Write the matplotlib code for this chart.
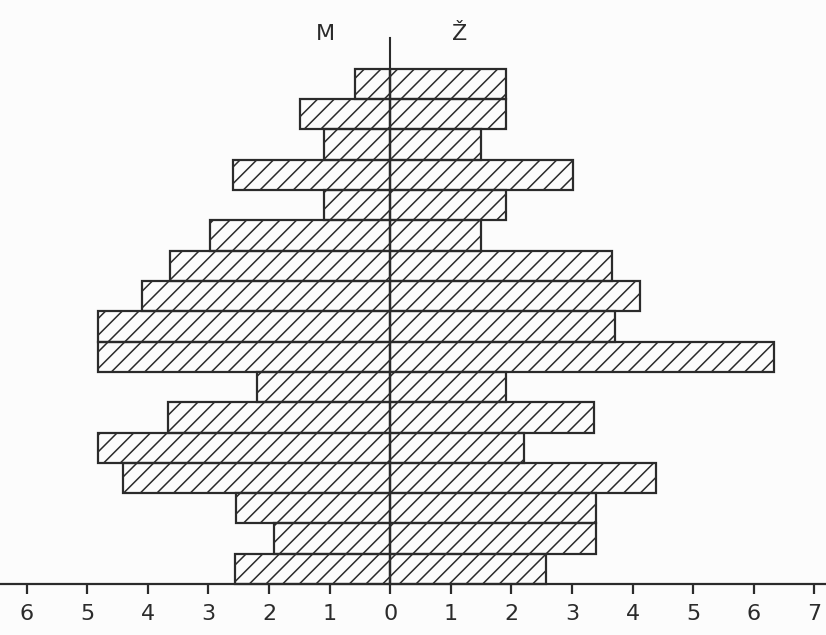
import matplotlib.pyplot as plt
import numpy as np

# age groups drawn from top (oldest) to bottom (youngest), percent of population
men = [0.58, 1.49, 1.09, 2.59, 1.09, 2.98, 3.63, 4.09, 4.82,
       4.82, 2.20, 3.66, 4.82, 4.41, 2.55, 1.92, 2.57]
women = [1.91, 1.91, 1.49, 3.02, 1.91, 1.49, 3.66, 4.12, 3.70,
         6.33, 1.91, 3.36, 2.20, 4.39, 3.40, 3.40, 2.57]
tick_values = [-6, -5, -4, -3, -2, -1, 0, 1, 2, 3, 4, 5, 6, 7]
tick_labels = [str(abs(v)) for v in tick_values]

ink = '#2b2b2b'
plt.rcParams['hatch.color'] = ink
plt.rcParams['hatch.linewidth'] = 1.1

fig = plt.figure(figsize=(8.26, 6.35), dpi=100, facecolor='#fcfcfc')
ax = fig.add_axes([0, 0, 1, 1], facecolor='#fcfcfc')

n = len(men)
ypos = np.arange(n)[::-1]  # first entry at the top

ax.barh(ypos, [-m for m in men], height=1, align='edge', color='none',
        edgecolor=ink, linewidth=1.6, hatch='//')
ax.barh(ypos, women, height=1, align='edge', color='none',
        edgecolor=ink, linewidth=1.6, hatch='//')

# centre line
ax.plot([0, 0], [0, 18.02], color=ink, lw=1.5)

ax.text(-1.07, 18.15, 'M', ha='center', va='center', fontsize=16, color=ink)
ax.text(1.15, 18.15, 'Ž', ha='center', va='center', fontsize=16, color=ink)

ax.set_xlim(-6.44, 7.19)
ax.set_ylim(-1.68, 19.27)

for s in ['top', 'right', 'left']:
    ax.spines[s].set_visible(False)
ax.spines['bottom'].set_position(('data', 0))
ax.spines['bottom'].set_color(ink)
ax.spines['bottom'].set_linewidth(1.6)
ax.set_yticks([])
ax.set_xticks(tick_values)
ax.set_xticklabels(tick_labels)
ax.tick_params(axis='x', direction='out', length=7, width=1.6, color=ink,
               labelsize=16, labelcolor=ink, pad=7)

fig.savefig('out.png', dpi=100, facecolor=fig.get_facecolor())
